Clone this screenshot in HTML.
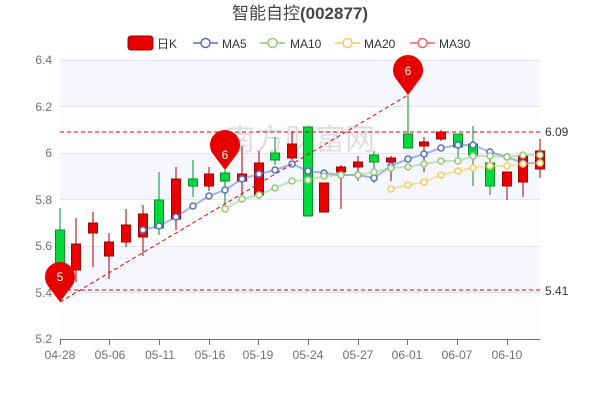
<!DOCTYPE html>
<html><head><meta charset="utf-8"><style>
body{margin:0;background:#fff;}
svg{display:block;font-family:"Liberation Sans","Noto Sans CJK SC",sans-serif;}
</style></head><body>
<svg width="600" height="400" viewBox="0 0 600 400" xmlns="http://www.w3.org/2000/svg">
<rect x="60" y="60" width="480" height="46.5" fill="#f5f7fc"/>
<rect x="60" y="106.5" width="480" height="46.5" fill="#fdfdfe"/>
<rect x="60" y="153" width="480" height="46.5" fill="#f5f7fc"/>
<rect x="60" y="199.5" width="480" height="46.5" fill="#fdfdfe"/>
<rect x="60" y="246" width="480" height="46.5" fill="#f5f7fc"/>
<rect x="60" y="292.5" width="480" height="46.5" fill="#fdfdfe"/>
<g stroke="#e0e6f1" stroke-width="1">
<line x1="60" y1="60.5" x2="540" y2="60.5"/><line x1="60" y1="106.5" x2="540" y2="106.5"/>
<line x1="60" y1="153.5" x2="540" y2="153.5"/><line x1="60" y1="199.5" x2="540" y2="199.5"/>
<line x1="60" y1="246.5" x2="540" y2="246.5"/><line x1="60" y1="292.5" x2="540" y2="292.5"/>
</g>
<g font-size="12" fill="#6e7079" text-anchor="end">
<text x="52" y="64">6.4</text><text x="52" y="111">6.2</text><text x="52" y="157">6</text>
<text x="52" y="204">5.8</text><text x="52" y="250">5.6</text><text x="52" y="297">5.4</text><text x="52" y="343">5.2</text>
</g>
<text x="300" y="150" font-size="30" fill="#d8d8d8" text-anchor="middle" opacity="0.8">南方财富网</text>
<line x1="60" y1="339.5" x2="540" y2="339.5" stroke="#6e7079"/>
<g stroke="#6e7079">
<line x1="60.5" y1="340" x2="60.5" y2="345"/><line x1="109.5" y1="340" x2="109.5" y2="345"/><line x1="159.5" y1="340" x2="159.5" y2="345"/><line x1="209.5" y1="340" x2="209.5" y2="345"/><line x1="258.5" y1="340" x2="258.5" y2="345"/><line x1="308.5" y1="340" x2="308.5" y2="345"/><line x1="358.5" y1="340" x2="358.5" y2="345"/><line x1="407.5" y1="340" x2="407.5" y2="345"/><line x1="457.5" y1="340" x2="457.5" y2="345"/><line x1="507.5" y1="340" x2="507.5" y2="345"/>
</g>
<g font-size="12" fill="#6e7079" text-anchor="middle">
<text x="60" y="359">04-28</text><text x="110" y="359">05-06</text><text x="160" y="359">05-11</text><text x="210" y="359">05-16</text><text x="258" y="359">05-19</text><text x="308" y="359">05-24</text><text x="358" y="359">05-27</text><text x="407" y="359">06-01</text><text x="457" y="359">06-07</text><text x="507" y="359">06-10</text>
</g>
<!-- candles -->
<g stroke-width="1">
<g stroke="#008f28" fill="#00da3c">
<line x1="60" y1="208" x2="60" y2="275"/><rect x="55.5" y="230" width="9" height="40"/>
<line x1="159" y1="172" x2="159" y2="235"/><rect x="154.5" y="200" width="9" height="28"/>
<line x1="193" y1="160" x2="193" y2="197"/><rect x="188.5" y="179" width="9" height="7"/>
<line x1="225" y1="170" x2="225" y2="205"/><rect x="220.5" y="173" width="9" height="8"/>
<line x1="275" y1="137" x2="275" y2="165"/><rect x="270.5" y="153" width="9" height="7"/>
<line x1="308" y1="127" x2="308" y2="216"/><rect x="303.5" y="127" width="9" height="89"/>
<line x1="374" y1="151" x2="374" y2="183"/><rect x="369.5" y="155" width="9" height="7"/>
<line x1="408" y1="95" x2="408" y2="148"/><rect x="403.5" y="134" width="9" height="14"/>
<line x1="458" y1="134" x2="458" y2="160"/><rect x="453.5" y="134" width="9" height="13"/>
<line x1="473" y1="126" x2="473" y2="186"/><rect x="468.5" y="144" width="9" height="11"/>
<line x1="490" y1="158" x2="490" y2="195"/><rect x="485.5" y="163" width="9" height="23"/>
</g>
<g stroke="#a00000" fill="#eb0000">
<line x1="76" y1="218" x2="76" y2="282"/><rect x="71.5" y="244" width="9" height="26"/>
<line x1="93" y1="212" x2="93" y2="267"/><rect x="88.5" y="223" width="9" height="10"/>
<line x1="109" y1="233" x2="109" y2="279"/><rect x="104.5" y="242" width="9" height="14"/>
<line x1="126" y1="209" x2="126" y2="247"/><rect x="121.5" y="225" width="9" height="17"/>
<line x1="143" y1="205" x2="143" y2="256"/><rect x="138.5" y="214" width="9" height="23"/>
<line x1="176" y1="167" x2="176" y2="230"/><rect x="171.5" y="179" width="9" height="40"/>
<line x1="209" y1="167" x2="209" y2="191"/><rect x="204.5" y="174" width="9" height="12"/>
<line x1="242" y1="146" x2="242" y2="195"/><rect x="237.5" y="174" width="9" height="7"/>
<line x1="259" y1="151" x2="259" y2="199"/><rect x="254.5" y="163" width="9" height="32"/>
<line x1="292" y1="132" x2="292" y2="160"/><rect x="287.5" y="144" width="9" height="14"/>
<rect x="319.5" y="183" width="9" height="29"/>
<line x1="341" y1="165" x2="341" y2="209"/><rect x="336.5" y="167" width="9" height="5"/>
<line x1="358" y1="156" x2="358" y2="181"/><rect x="353.5" y="162" width="9" height="5"/>
<line x1="391" y1="156" x2="391" y2="181"/><rect x="386.5" y="158" width="9" height="4"/>
<line x1="424" y1="137" x2="424" y2="172"/><rect x="419.5" y="142" width="9" height="4"/>
<line x1="441" y1="130" x2="441" y2="141"/><rect x="436.5" y="132" width="9" height="7"/>
<line x1="507" y1="172" x2="507" y2="200"/><rect x="502.5" y="172" width="9" height="14"/>
<line x1="523" y1="156" x2="523" y2="197"/><rect x="518.5" y="156" width="9" height="26"/>
<line x1="540" y1="139" x2="540" y2="178"/><rect x="535.5" y="151" width="9" height="18"/>
</g>
</g>
<!-- MAs -->
<polyline fill="none" stroke="#5470c6" stroke-opacity="0.5" stroke-width="2" points="143,230 159,226 176,217 193,206 209,196 225,190 242,179 259,174 275,170 292,164 308,171 324,173 341,175 358,175 374,178 391,166 408,159 424,154 441,148 458,145 473,145 490,152 507,157 523,163 540,163"/>
<polyline fill="none" stroke="#91cc75" stroke-opacity="0.5" stroke-width="2" points="225,209 242,199 259,195 275,188 292,181 308,180 324,176 341,175 358,175 374,172 391,168 408,167 424,164 441,161 458,161 473,156 490,156 507,157 523,155 540,155"/>
<polyline fill="none" stroke="#fac858" stroke-opacity="0.5" stroke-width="2" points="391,189 408,185 424,182 441,175 458,171 473,168 490,166 507,166 523,164 540,163"/>
<g fill="#fff" stroke="#5470c6" stroke-width="1.5">
<circle cx="143" cy="230" r="3"/><circle cx="159" cy="226" r="3"/><circle cx="176" cy="217" r="3"/><circle cx="193" cy="206" r="3"/><circle cx="209" cy="196" r="3"/><circle cx="225" cy="190" r="3"/><circle cx="242" cy="179" r="3"/><circle cx="259" cy="174" r="3"/><circle cx="275" cy="170" r="3"/><circle cx="292" cy="164" r="3"/><circle cx="308" cy="171" r="3"/><circle cx="324" cy="173" r="3"/><circle cx="341" cy="175" r="3"/><circle cx="358" cy="175" r="3"/><circle cx="374" cy="178" r="3"/><circle cx="391" cy="166" r="3"/><circle cx="408" cy="159" r="3"/><circle cx="424" cy="154" r="3"/><circle cx="441" cy="148" r="3"/><circle cx="458" cy="145" r="3"/><circle cx="473" cy="145" r="3"/><circle cx="490" cy="152" r="3"/><circle cx="507" cy="157" r="3"/><circle cx="523" cy="163" r="3"/><circle cx="540" cy="163" r="3"/>
</g>
<g fill="#fff" stroke="#91cc75" stroke-width="1.5">
<circle cx="225" cy="209" r="3"/><circle cx="242" cy="199" r="3"/><circle cx="259" cy="195" r="3"/><circle cx="275" cy="188" r="3"/><circle cx="292" cy="181" r="3"/><circle cx="308" cy="180" r="3"/><circle cx="324" cy="176" r="3"/><circle cx="341" cy="175" r="3"/><circle cx="358" cy="175" r="3"/><circle cx="374" cy="172" r="3"/><circle cx="391" cy="168" r="3"/><circle cx="408" cy="167" r="3"/><circle cx="424" cy="164" r="3"/><circle cx="441" cy="161" r="3"/><circle cx="458" cy="161" r="3"/><circle cx="473" cy="156" r="3"/><circle cx="490" cy="156" r="3"/><circle cx="507" cy="157" r="3"/><circle cx="523" cy="155" r="3"/><circle cx="540" cy="155" r="3"/>
</g>
<g fill="#fff" stroke="#fac858" stroke-width="1.5">
<circle cx="391" cy="189" r="3"/><circle cx="408" cy="185" r="3"/><circle cx="424" cy="182" r="3"/><circle cx="441" cy="175" r="3"/><circle cx="458" cy="171" r="3"/><circle cx="473" cy="168" r="3"/><circle cx="490" cy="166" r="3"/><circle cx="507" cy="166" r="3"/><circle cx="523" cy="164" r="3"/><circle cx="540" cy="163" r="3"/>
</g>
<!-- mark lines -->
<g stroke="#e00" stroke-width="1" stroke-dasharray="4,3" fill="none">
<line x1="60" y1="132" x2="540" y2="132"/>
<line x1="60" y1="290" x2="540" y2="290"/>
<line x1="60" y1="302" x2="408" y2="95"/>
</g>
<g font-size="12" fill="#333"><text x="545" y="136">6.09</text><text x="545" y="295">5.41</text></g>
<!-- pins -->
<g fill="#e60000">
<path d="M60,302 L48,286 A15,15 0 1 1 72,286 Z"/>
<path d="M225,170 L213,154 A15,15 0 1 1 237,154 Z"/>
<path d="M408,95 L396,79 A15,15 0 1 1 420,79 Z"/>
</g>
<g font-size="12" fill="#fff" text-anchor="middle">
<text x="60" y="281">5</text><text x="225" y="159">6</text><text x="408" y="75">6</text>
</g>
<!-- title -->
<text x="300" y="19" font-size="17" fill="#464646" text-anchor="middle">智能自控<tspan font-weight="bold">(002877)</tspan></text>
<!-- legend -->
<rect x="128" y="36" width="25" height="14" rx="3" fill="#eb0000" stroke="#a00000"/>
<text x="157" y="48" font-size="12" fill="#333">日K</text>
<g stroke-width="1.5" fill="#fff">
<line x1="193" y1="43" x2="218" y2="43" stroke="#5470c6"/><circle cx="205.5" cy="43" r="4.5" stroke="#5470c6"/>
<line x1="260" y1="43" x2="285" y2="43" stroke="#91cc75"/><circle cx="272.5" cy="43" r="4.5" stroke="#91cc75"/>
<line x1="335" y1="43" x2="360" y2="43" stroke="#fac858"/><circle cx="347.5" cy="43" r="4.5" stroke="#fac858"/>
<line x1="410" y1="43" x2="435" y2="43" stroke="#ee6666"/><circle cx="422.5" cy="43" r="4.5" stroke="#ee6666"/>
</g>
<g font-size="12" fill="#333">
<text x="222" y="48">MA5</text><text x="290" y="48">MA10</text><text x="364" y="48">MA20</text><text x="439" y="48">MA30</text>
</g>
</svg>
</body></html>
